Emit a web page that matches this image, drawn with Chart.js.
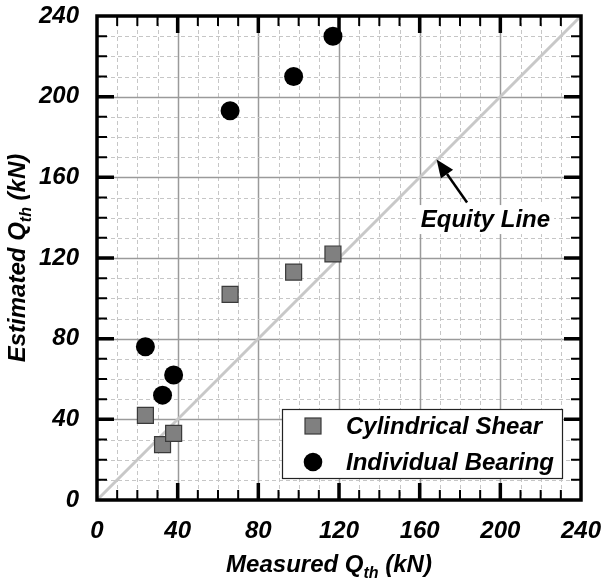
<!DOCTYPE html>
<html>
<head>
<meta charset="utf-8">
<script src="https://cdn.jsdelivr.net/npm/chart.js@4/dist/chart.umd.min.js"></script>
<style>
  html, body { margin: 0; padding: 0; background: #fff; }
  canvas { display: block; }
</style>
</head>
<body>
<canvas id="chart" width="603" height="586"></canvas>
<script>
// Measured vs. estimated uplift capacity Q_th (kN)
const measuredQth = [24, 32.5, 38, 66, 97.5, 117];
const cylindricalShear = [42, 27.5, 33, 102, 113, 122];
const individualBearing = [76, 52, 62, 193, 210, 230];
const axisTicks = [0, 40, 80, 120, 160, 200, 240];
const equityLine = [0, 240];
const seriesNames = ['Cylindrical Shear', 'Individual Bearing'];

// Callout for the 1:1 line, in data units
const equityLabel = 'Equity Line';
const equityLabelAt = [192.6, 139.3];
const arrowTail = [183.5, 147.5];
const arrowHead = [168.4, 168.9];

const FONT_FAMILY = '"Liberation Sans", Arial, Helvetica, sans-serif';
const FONT_SIZE = 24;
const tickFont = { family: FONT_FAMILY, size: FONT_SIZE, style: 'italic', weight: 'bold' };
const textFont = `italic bold ${FONT_SIZE}px ${FONT_FAMILY}`;

const toPoints = (ys) => measuredQth.map((x, i) => ({ x, y: ys[i] }));

// Minor dashed and major solid grid lines
const gridPlugin = {
  id: 'gridLines',
  beforeDatasetsDraw(chart) {
    const { ctx, chartArea: a, scales: { x, y } } = chart;
    ctx.save();
    for (let v = 10; v < 240; v += 10) {
      const major = v % 40 === 0;
      ctx.setLineDash(major ? [] : [4, 3]);
      ctx.strokeStyle = major ? '#9a9a9a' : '#c6c6c6';
      ctx.lineWidth = major ? 1.5 : 1;
      const px = Math.round(x.getPixelForValue(v)) + 0.5;
      const py = Math.round(y.getPixelForValue(v)) + 0.5;
      ctx.beginPath();
      ctx.moveTo(px, a.top); ctx.lineTo(px, a.bottom);
      ctx.moveTo(a.left, py); ctx.lineTo(a.right, py);
      ctx.stroke();
    }
    ctx.restore();
  }
};

// Frame with inward ticks on all four sides, arrow callout, legend, axis titles
const overlayPlugin = {
  id: 'overlay',
  afterDatasetsDraw(chart) {
    const { ctx, chartArea: a, scales: { x, y } } = chart;
    ctx.save();
    ctx.strokeStyle = '#000';
    for (let v = 10; v < 240; v += 10) {
      const major = v % 40 === 0;
      const len = major ? 17 : 10;
      ctx.lineWidth = major ? 3.5 : 2;
      const px = x.getPixelForValue(v);
      const py = y.getPixelForValue(v);
      ctx.beginPath();
      ctx.moveTo(px, a.bottom); ctx.lineTo(px, a.bottom - len);
      ctx.moveTo(px, a.top); ctx.lineTo(px, a.top + len);
      ctx.moveTo(a.left, py); ctx.lineTo(a.left + len, py);
      ctx.moveTo(a.right, py); ctx.lineTo(a.right - len, py);
      ctx.stroke();
    }
    ctx.lineWidth = 3.5;
    ctx.strokeRect(a.left, a.top, a.right - a.left, a.bottom - a.top);

    // "Equity Line" label with white backing
    ctx.font = textFont;
    const lx = x.getPixelForValue(equityLabelAt[0]);
    const ly = y.getPixelForValue(equityLabelAt[1]);
    const lw = ctx.measureText(equityLabel).width;
    ctx.fillStyle = '#fff';
    ctx.fillRect(lx - lw / 2 - 4, ly - 14, lw + 8, 29);
    ctx.fillStyle = '#000';
    ctx.textAlign = 'center';
    ctx.textBaseline = 'middle';
    ctx.fillText(equityLabel, lx, ly + 1);

    // Arrow pointing at the line
    const tx = x.getPixelForValue(arrowTail[0]), ty = y.getPixelForValue(arrowTail[1]);
    const hx = x.getPixelForValue(arrowHead[0]), hy = y.getPixelForValue(arrowHead[1]);
    const ang = Math.atan2(hy - ty, hx - tx);
    const headLen = 18, headHalf = 7.5;
    const bx = hx - headLen * Math.cos(ang), by = hy - headLen * Math.sin(ang);
    ctx.lineWidth = 2.5;
    ctx.beginPath();
    ctx.moveTo(tx, ty); ctx.lineTo(bx, by);
    ctx.stroke();
    ctx.beginPath();
    ctx.moveTo(hx, hy);
    ctx.lineTo(bx + headHalf * Math.sin(ang), by - headHalf * Math.cos(ang));
    ctx.lineTo(bx - headHalf * Math.sin(ang), by + headHalf * Math.cos(ang));
    ctx.closePath();
    ctx.fill();

    // Legend box
    const box = { x: 282, y: 409, w: 280, h: 69 };
    ctx.fillStyle = '#fff';
    ctx.fillRect(box.x, box.y, box.w, box.h);
    ctx.lineWidth = 1.2;
    ctx.strokeStyle = '#222';
    ctx.strokeRect(box.x + 0.5, box.y + 0.5, box.w, box.h);
    const ds = chart.data.datasets;
    const mx = 313;
    const rows = [426, 462];
    ctx.textAlign = 'left';
    ctx.textBaseline = 'middle';
    rows.forEach((ry, i) => {
      const d = ds[i];
      if (d.pointStyle === 'rect') {
        ctx.fillStyle = d.backgroundColor;
        ctx.fillRect(mx - 8, ry - 8, 16, 16);
        ctx.strokeStyle = d.borderColor;
        ctx.lineWidth = 1.2;
        ctx.strokeRect(mx - 8, ry - 8, 16, 16);
      } else {
        ctx.fillStyle = d.backgroundColor;
        ctx.beginPath();
        ctx.arc(mx, ry, 9.3, 0, Math.PI * 2);
        ctx.fill();
      }
      ctx.fillStyle = '#000';
      ctx.font = textFont;
      ctx.fillText(d.label, 346, ry + 1);
    });
    ctx.restore();
  },
  afterDraw(chart) {
    const { ctx } = chart;
    const drawTitle = (main, sub, tail) => {
      const small = `italic bold 16px ${FONT_FAMILY}`;
      ctx.font = textFont; const w1 = ctx.measureText(main).width;
      const w3 = ctx.measureText(tail).width;
      ctx.font = small; const w2 = ctx.measureText(sub).width;
      const total = w1 + w2 + w3;
      let cx = -total / 2;
      ctx.textBaseline = 'alphabetic';
      ctx.textAlign = 'left';
      ctx.fillStyle = '#000';
      ctx.font = textFont; ctx.fillText(main, cx, 0); cx += w1;
      ctx.font = small; ctx.fillText(sub, cx, 6); cx += w2;
      ctx.font = textFont; ctx.fillText(tail, cx, 0);
    };
    ctx.save();
    ctx.translate(329, 572);
    drawTitle('Measured Q', 'th', ' (kN)');
    ctx.restore();
    ctx.save();
    ctx.translate(25, 258);
    ctx.rotate(-Math.PI / 2);
    drawTitle('Estimated Q', 'th', ' (kN)');
    ctx.restore();
  }
};

const axisCommon = {
  type: 'linear',
  min: equityLine[0],
  max: equityLine[1],
  afterBuildTicks: (s) => { s.ticks = axisTicks.map(v => ({ value: v })); },
  grid: { display: false, drawTicks: false },
  border: { display: false },
};

new Chart(document.getElementById('chart'), {
  type: 'scatter',
  data: {
    datasets: [
      {
        label: seriesNames[0],
        data: toPoints(cylindricalShear),
        pointStyle: 'rect',
        pointRadius: 11.3,
        backgroundColor: '#808080',
        borderColor: '#3a3a3a',
        borderWidth: 1.2,
      },
      {
        label: seriesNames[1],
        data: toPoints(individualBearing),
        pointStyle: 'circle',
        pointRadius: 9.5,
        backgroundColor: '#000',
        borderColor: '#000',
        borderWidth: 0,
      },
      {
        label: equityLabel,
        data: equityLine.map(v => ({ x: v, y: v })),
        showLine: true,
        pointRadius: 0,
        borderColor: '#c8c8c8',
        borderWidth: 3,
      }
    ]
  },
  options: {
    responsive: false,
    animation: false,
    devicePixelRatio: 1,
    layout: { padding: { top: 16, right: 22, left: 0, bottom: 0 } },
    plugins: { legend: { display: false }, tooltip: { enabled: false } },
    scales: {
      x: {
        ...axisCommon,
        afterFit: (s) => { s.height = 86; s.paddingLeft = 0; s.paddingRight = 0; },
        ticks: { font: tickFont, color: '#000', padding: 17, maxRotation: 0, autoSkip: false },
      },
      y: {
        ...axisCommon,
        afterFit: (s) => { s.width = 97; s.paddingTop = 0; s.paddingBottom = 0; },
        ticks: { font: tickFont, color: '#000', padding: 18, autoSkip: false },
      }
    }
  },
  plugins: [gridPlugin, overlayPlugin]
});
</script>
</body>
</html>
